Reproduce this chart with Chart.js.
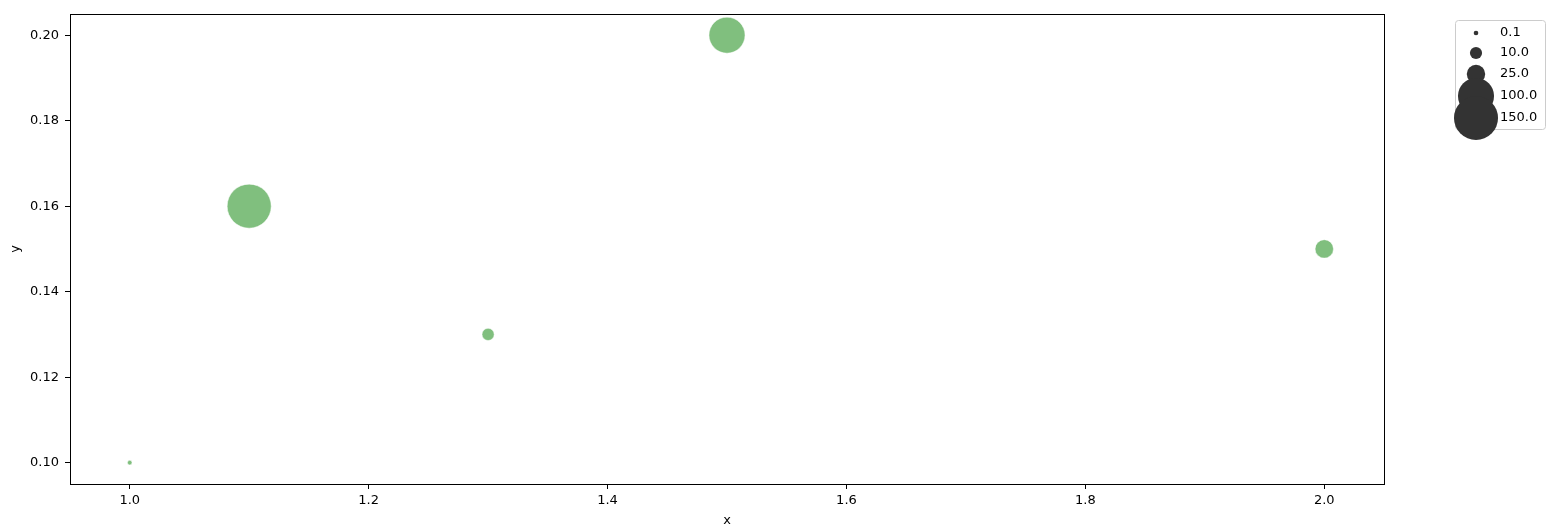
<!DOCTYPE html>
<html>
<head>
<meta charset="utf-8">
<script src="https://cdn.jsdelivr.net/npm/chart.js@4/dist/chart.umd.min.js"></script>
<style>
    html, body { margin: 0; padding: 0; background: #fff; }
    #wrap { width: 1549px; height: 528px; position: relative; }
</style>
</head>
<body>
<div id="wrap"><canvas id="chart"></canvas></div>
<script>
// data
const xValues = [1.0, 1.1, 1.3, 1.5, 2.0];
const yValues = [0.10, 0.16, 0.13, 0.20, 0.15];
const sizeValues = [0.1, 150, 10, 100, 25];

const legendSizes = [0.1, 10, 25, 100, 150];
const legendLabels = ['0.1', '10.0', '25.0', '100.0', '150.0'];

const xTicks = [1.0, 1.2, 1.4, 1.6, 1.8, 2.0];
const yTicks = [0.10, 0.12, 0.14, 0.16, 0.18, 0.20];

const FONT = 'DejaVu Sans';

// marker area grows linearly with the size value
function sizeToRadius(v) {
    return Math.sqrt(5 + 3.2 * v);
}

let points = [];
for (let i = 0; i < xValues.length; i++) {
    points.push({ x: xValues[i], y: yValues[i] });
}
let radii = sizeValues.map(sizeToRadius);

// all four spines
const framePlugin = {
    id: 'frame',
    afterDatasetsDraw(chart) {
        const a = chart.chartArea;
        const ctx = chart.ctx;
        ctx.save();
        ctx.strokeStyle = '#000';
        ctx.lineWidth = 1;
        ctx.strokeRect(Math.round(a.left) + 0.5, Math.round(a.top) + 0.5,
            Math.round(a.right - a.left), Math.round(a.bottom - a.top));
        ctx.restore();
    }
};

// size legend, drawn like the seaborn one
const sizeLegendPlugin = {
    id: 'sizeLegend',
    afterDraw(chart) {
        const ctx = chart.ctx;
        const boxX = 1455, boxY = 20, boxW = 90, boxH = 109;
        ctx.save();
        ctx.fillStyle = 'rgba(255,255,255,0.8)';
        ctx.strokeStyle = '#cccccc';
        ctx.lineWidth = 1;
        ctx.beginPath();
        ctx.roundRect(boxX + 0.5, boxY + 0.5, boxW, boxH, 3);
        ctx.fill();
        ctx.stroke();

        const rowY = [33, 53, 74, 96, 118];
        ctx.font = '13px "' + FONT + '"';
        ctx.textBaseline = 'middle';
        ctx.textAlign = 'left';
        for (let i = 0; i < legendSizes.length; i++) {
            ctx.fillStyle = '#333333';
            ctx.beginPath();
            ctx.arc(1476, rowY[i], sizeToRadius(legendSizes[i]), 0, Math.PI * 2);
            ctx.fill();
            ctx.fillStyle = '#000';
            ctx.fillText(legendLabels[i], 1500, rowY[i]);
        }
        ctx.restore();
    }
};

const config = {
    type: 'scatter',
    data: {
        datasets: [{
            label: 'size',
            data: points,
            backgroundColor: 'rgb(128, 191, 126)',
            borderColor: '#ffffff',
            borderWidth: 0.5,
            pointRadius: radii,
            pointHoverRadius: radii
        }]
    },
    options: {
        responsive: true,
        maintainAspectRatio: false,
        animation: false,
        layout: {
            autoPadding: false,
            padding: { left: 0, top: 13, right: 165, bottom: 0 }
        },
        plugins: {
            legend: { display: false },
            tooltip: { enabled: false }
        },
        scales: {
            x: {
                type: 'linear',
                min: 0.95,
                max: 2.05,
                afterBuildTicks: (scale) => {
                    scale.ticks = xTicks.map(v => ({ value: v }));
                },
                afterFit: (scale) => { scale.height = 44; },
                ticks: {
                    color: '#000',
                    font: { family: FONT, size: 13 },
                    padding: 4,
                    maxRotation: 0,
                    callback: (v) => Number(v).toFixed(1)
                },
                grid: {
                    drawOnChartArea: false,
                    drawTicks: true,
                    tickLength: 5,
                    color: '#000'
                },
                border: { display: false },
                title: {
                    display: true,
                    text: 'x',
                    color: '#000',
                    font: { family: FONT, size: 13 },
                    padding: { top: 1, bottom: 0 }
                }
            },
            y: {
                type: 'linear',
                min: 0.095,
                max: 0.205,
                afterBuildTicks: (scale) => {
                    scale.ticks = yTicks.map(v => ({ value: v }));
                },
                afterFit: (scale) => { scale.width = 70; },
                ticks: {
                    color: '#000',
                    font: { family: FONT, size: 13 },
                    padding: 6,
                    callback: (v) => Number(v).toFixed(2)
                },
                grid: {
                    drawOnChartArea: false,
                    drawTicks: true,
                    tickLength: 5,
                    color: '#000'
                },
                border: { display: false },
                title: {
                    display: true,
                    text: 'y',
                    color: '#000',
                    font: { family: FONT, size: 13 },
                    padding: { top: 8, bottom: 0 }
                }
            }
        }
    },
    plugins: [framePlugin, sizeLegendPlugin]
};

new Chart(document.getElementById('chart'), config);
</script>
</body>
</html>
